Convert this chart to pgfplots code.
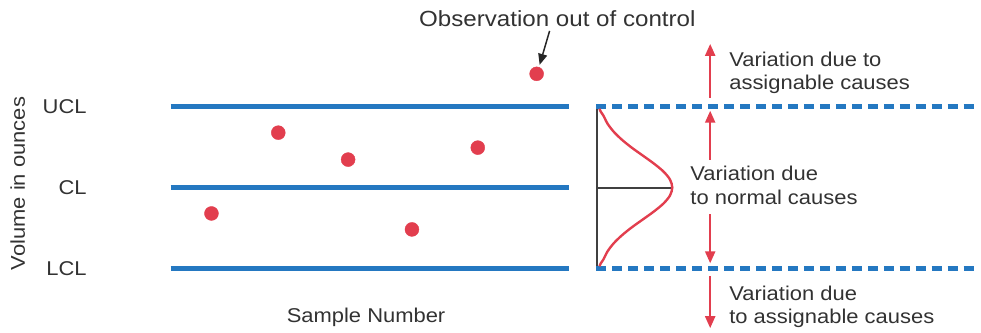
\documentclass[border=0pt]{standalone}
\usepackage{fontspec}
\setmainfont[FakeStretch=1.1]{Liberation Sans}
\usepackage{pgfplots}
\pgfplotsset{compat=1.18}
\usetikzlibrary{arrows.meta}
\definecolor{cblue}{RGB}{36,120,193}
\definecolor{cred}{RGB}{226,62,78}
\definecolor{ctext}{RGB}{50,50,50}
\begin{document}
\begin{tikzpicture}
\begin{axis}[
  width=981pt, height=333pt, scale only axis,
  xmin=0, xmax=981, ymin=0, ymax=333, y dir=reverse,
  hide axis, clip=false,
]
\path (axis cs:0,0) rectangle (axis cs:981,333);
% control lines
\addplot[cblue, line width=5pt] coordinates {(171,107) (570,107)};
\addplot[cblue, line width=5pt] coordinates {(171,188) (570,188)};
\addplot[cblue, line width=5pt] coordinates {(171,269) (570,269)};
% dashed limits
\addplot[cblue, line width=5pt, dash pattern=on 10pt off 6pt] coordinates {(598,107) (981,107)};
\addplot[cblue, line width=5pt, dash pattern=on 10pt off 6pt] coordinates {(598,269) (981,269)};
% normal curve
\addplot[black!75, line width=2pt] coordinates {(599,109) (599,267)};
\addplot[black!75, line width=2pt] coordinates {(599,188) (674,188)};
\addplot[cred, line width=2.4pt, smooth] coordinates {
 (601,109) (602.3,112) (605,116) (609.1,124) (615.2,132) (623.4,140) (633.3,148) (644.5,156)
 (655.6,164) (665.2,172) (671.7,180) (674,188)
 (671.7,196) (665.2,204) (655.6,212) (644.5,220) (633.3,228) (623.4,236) (615.2,244)
 (609.1,252) (605,260) (602.3,264) (601,267)};
% observations
\addplot[only marks, mark=*, mark size=7pt, cred, mark options={draw=cred, fill=cred}] coordinates {
 (212,214) (279,133) (349,160) (413,230) (479,148) (538,74)};
% arrows
\addplot[black!85, line width=1.5pt, -{Triangle[length=11pt,width=9pt]}] coordinates {(551,31) (541,65)};
\addplot[cred, line width=2.2pt, -{Triangle[length=12pt,width=10pt]}] coordinates {(712,98) (712,44)};
\addplot[cred, line width=2.2pt, -{Triangle[length=12pt,width=10pt]}] coordinates {(712,160) (712,111)};
\addplot[cred, line width=2.2pt, -{Triangle[length=12pt,width=10pt]}] coordinates {(712,215) (712,264)};
\addplot[cred, line width=2.2pt, -{Triangle[length=12pt,width=10pt]}] coordinates {(712,277) (712,329)};
% texts
\begin{scope}[every node/.style={text=ctext, font=\fontsize{20}{24}\selectfont, inner sep=0pt}]
\node[anchor=base west, font=\fontsize{22}{26}\selectfont] at (axis cs:420,27) {Observation out of control};
\node[anchor=base west] at (axis cs:731,67) {Variation due to};
\node[anchor=base west] at (axis cs:731,90) {assignable causes};
\node[anchor=base west] at (axis cs:692,181) {Variation due};
\node[anchor=base west] at (axis cs:692,205) {to normal causes};
\node[anchor=base west] at (axis cs:731,301) {Variation due};
\node[anchor=base west] at (axis cs:731,324) {to assignable causes};
\node[anchor=base east] at (axis cs:87,114) {UCL};
\node[anchor=base east] at (axis cs:87,195) {CL};
\node[anchor=base east] at (axis cs:87,276) {LCL};
\node[anchor=base] at (axis cs:367,323) {Sample Number};
\node[anchor=base, rotate=90] at (axis cs:25,184) {Volume in ounces};
\end{scope}
\end{axis}
\end{tikzpicture}
\end{document}
